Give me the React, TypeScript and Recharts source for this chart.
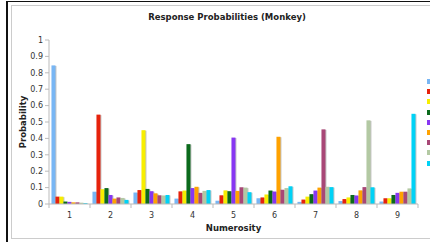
import React from 'react';
import { BarChart, Bar, XAxis, YAxis } from 'recharts';

const numerosity = ['1', '2', '3', '4', '5', '6', '7', '8', '9'];
const resp1 = [0.845, 0.075, 0.07, 0.033, 0.02, 0.035, 0.013, 0.018, 0.015];
const resp2 = [0.045, 0.545, 0.085, 0.077, 0.053, 0.04, 0.027, 0.03, 0.035];
const resp3 = [0.045, 0.09, 0.45, 0.082, 0.083, 0.058, 0.045, 0.04, 0.035];
const resp4 = [0.015, 0.097, 0.092, 0.365, 0.078, 0.082, 0.06, 0.055, 0.055];
const resp5 = [0.013, 0.055, 0.078, 0.097, 0.405, 0.076, 0.082, 0.052, 0.068];
const resp6 = [0.01, 0.033, 0.065, 0.105, 0.08, 0.41, 0.1, 0.083, 0.075];
const resp7 = [0.01, 0.04, 0.053, 0.068, 0.102, 0.087, 0.455, 0.103, 0.075];
const resp8 = [0.008, 0.037, 0.052, 0.08, 0.1, 0.097, 0.105, 0.51, 0.095];
const resp9 = [0.005, 0.025, 0.055, 0.085, 0.072, 0.108, 0.103, 0.102, 0.55];
const yTicks = [0, 0.1, 0.2, 0.3, 0.4, 0.5, 0.6, 0.7, 0.8, 0.9, 1];

const series = [
  { key: 'r1', values: resp1, color: '#78b6f4' },
  { key: 'r2', values: resp2, color: '#e6220c' },
  { key: 'r3', values: resp3, color: '#f7ee00' },
  { key: 'r4', values: resp4, color: '#0b6a1c' },
  { key: 'r5', values: resp5, color: '#8736f2' },
  { key: 'r6', values: resp6, color: '#ffa200' },
  { key: 'r7', values: resp7, color: '#a84776' },
  { key: 'r8', values: resp8, color: '#b3c9a3' },
  { key: 'r9', values: resp9, color: '#00d2f6' },
];

const data = numerosity.map((n, i) => {
  const row: any = { name: n };
  series.forEach((s) => { row[s.key] = s.values[i]; });
  return row;
});

const FONT = '"DejaVu Sans", Verdana, sans-serif';
const W = 430;
const H = 242;
const M = { top: 40, right: 12, bottom: 8, left: 9 };
const Y_W = 40;
const X_H = 30;
const plotLeft = M.left + Y_W;
const plotRight = W - M.right;
const plotBottom = H - M.bottom - X_H;
const band = (plotRight - plotLeft) / numerosity.length;

const ShadowBar = (props: any) => {
  const { x, y, width, height, fill } = props;
  if (!height || height <= 0) return null;
  return (
    <g>
      <rect x={x + 1} y={y + 0.5} width={width} height={height - 0.5} fill="#c4c4c4" />
      <rect x={x} y={y} width={width} height={height} fill={fill} />
    </g>
  );
};

const XTick = (props: any) => {
  const { x, y, payload, index } = props;
  const left = x - band / 2;
  return (
    <g>
      <line x1={left} y1={plotBottom} x2={left} y2={plotBottom + 4} stroke="#bbb" />
      {index === numerosity.length - 1 && (
        <line x1={x + band / 2} y1={plotBottom} x2={x + band / 2} y2={plotBottom + 4} stroke="#bbb" />
      )}
      <text x={x} y={y} dy="0.71em" textAnchor="middle" fontSize={8} fill="#333" fontFamily={FONT}>
        {payload.value}
      </text>
    </g>
  );
};

export default function App() {
  return (
    <div style={{ position: 'absolute', left: 0, top: 0, width: W, height: H, background: '#fff', overflow: 'hidden' }}>
      <div style={{ position: 'absolute', left: 6, top: 1, width: W, height: 240, borderLeft: '2px solid #111', borderTop: '1px solid #111', borderBottom: '2px solid #111' }} />
      <div style={{ position: 'absolute', left: 11, top: 5, width: W, height: 232, borderLeft: '1px solid #ccc', borderTop: '1px solid #ccc', borderBottom: '1px solid #ccc' }} />
      <div style={{ position: 'absolute', left: 0, top: 0 }}>
        <BarChart width={W} height={H} data={data} margin={M} barGap={0} barCategoryGap="6%">
          <text x={227} y={17} textAnchor="middle" dominantBaseline="middle" fontSize={8.5} fontWeight="bold" fill="#222" fontFamily={FONT}>
            Response Probabilities (Monkey)
          </text>
          <XAxis
            dataKey="name"
            height={X_H}
            stroke="#bbb"
            tickLine={false}
            tick={<XTick />}
            interval={0}
            label={{ value: 'Numerosity', position: 'insideBottom', offset: 3, fontSize: 8.5, fontWeight: 'bold', fill: '#222', fontFamily: FONT }}
          />
          <YAxis
            width={Y_W}
            domain={[0, 1]}
            ticks={yTicks}
            interval={0}
            stroke="#bbb"
            tickSize={4}
            tickMargin={2}
            tick={{ fontSize: 8, fill: '#333', fontFamily: FONT }}
            label={{ value: 'Probability', angle: -90, position: 'center', dx: -6, fontSize: 8.5, fontWeight: 'bold', fill: '#222', fontFamily: FONT }}
          />
          {series.map((s) => (
            <Bar key={s.key} dataKey={s.key} fill={s.color} shape={<ShadowBar />} isAnimationActive={false} />
          ))}
        </BarChart>
      </div>
      {series.map((s, i) => (
        <div key={s.key} style={{ position: 'absolute', left: 427, top: 79 + i * 10.2, width: 5, height: 5, background: s.color }} />
      ))}
    </div>
  );
}
